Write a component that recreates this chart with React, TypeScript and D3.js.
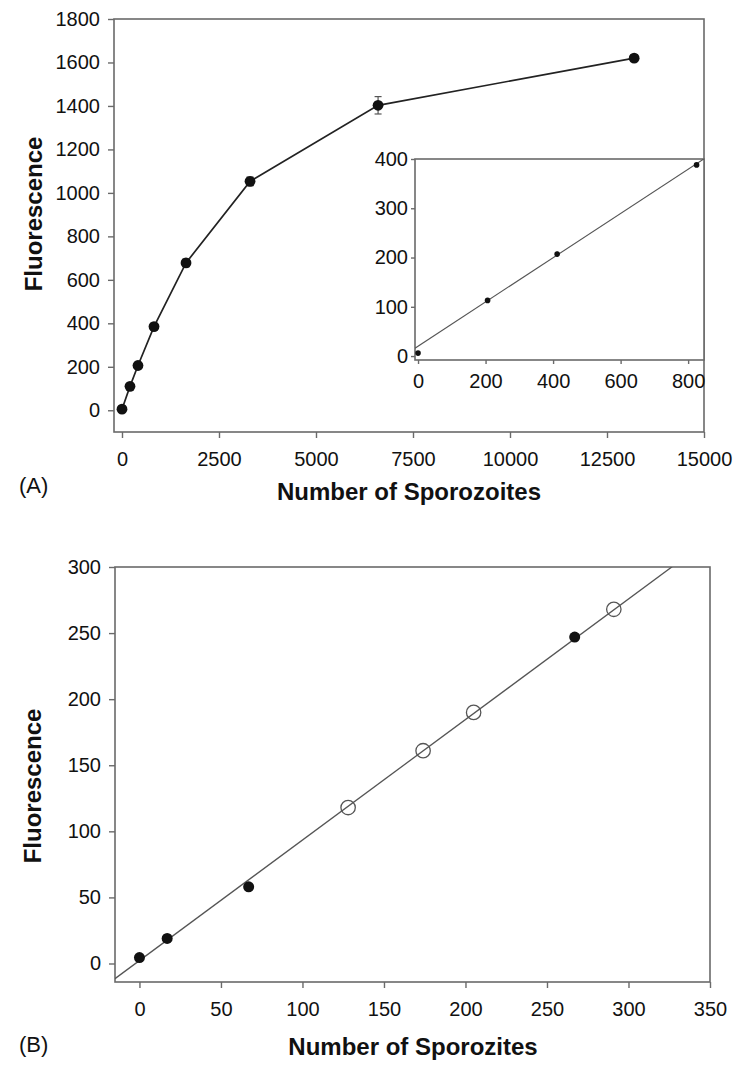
import React, { useEffect, useRef } from 'react';
import * as d3 from 'd3';

// panel A - main curve
const sporoA = [0, 206, 412, 825, 1650, 3300, 6600, 13200];
const fluorA = [5, 110, 206, 385, 678, 1053, 1403, 1620];
const errA = [10, 12, 14, 15, 18, 20, 40, 15];

// panel A - inset (low range)
const sporoInset = [0, 206, 412, 825];
const fluorInset = [6, 113, 207, 388];
const errInset = [3, 3, 5, 3];
const insetFit = { slope: 0.449, intercept: 20 };

// panel B
const sporoBFilled = [0, 17, 67, 267];
const fluorBFilled = [4.5, 19, 58, 247];
const sporoBOpen = [128, 174, 205, 291];
const fluorBOpen = [118, 161, 190, 268];
const fitB = { slope: 0.912, intercept: 2.2 };

const ticksAx = [0, 2500, 5000, 7500, 10000, 12500, 15000];
const ticksAy = [0, 200, 400, 600, 800, 1000, 1200, 1400, 1600, 1800];
const ticksInsetX = [0, 200, 400, 600, 800];
const ticksInsetY = [0, 100, 200, 300, 400];
const ticksBx = [0, 50, 100, 150, 200, 250, 300, 350];
const ticksBy = [0, 50, 100, 150, 200, 250, 300];

const FONT = "'Liberation Sans', Arial, Helvetica, sans-serif";
const FRAME = '#6a6a6a';

const App = () => {
  const svgRef = useRef(null);

  useEffect(() => {
    const svg = d3.select(svgRef.current);
    svg.selectAll('*').remove();
    svg.style('font-family', FONT);

    const frame = (x, y) => {
      const [x0, x1] = x.range();
      const [y0, y1] = y.range();
      svg.append('rect')
        .attr('x', x0).attr('y', y1)
        .attr('width', x1 - x0).attr('height', y0 - y1)
        .attr('fill', '#fff')
        .attr('stroke', FRAME)
        .attr('stroke-width', 1.6);
    };

    const axes = (x, y, xt, yt, opts) => {
      const fmt = d3.format('d');
      const gx = svg.append('g')
        .attr('transform', `translate(0,${y.range()[0]})`)
        .call(d3.axisBottom(x).tickValues(xt).tickFormat(fmt)
          .tickSize(opts.tick).tickSizeOuter(0).tickPadding(opts.xPad));
      const gy = svg.append('g')
        .attr('transform', `translate(${x.range()[0]},0)`)
        .call(d3.axisLeft(y).tickValues(yt).tickFormat(fmt)
          .tickSize(opts.tick).tickSizeOuter(0).tickPadding(opts.yPad));
      [gx, gy].forEach(g => {
        g.select('.domain').remove();
        g.selectAll('line').attr('stroke', FRAME).attr('stroke-width', 1.4);
        g.selectAll('text')
          .attr('fill', '#111')
          .style('font-size', opts.size + 'px')
          .style('font-family', FONT);
      });
    };

    const label = (txt, x, y, size, bold, rotate) => {
      const t = svg.append('text')
        .attr('text-anchor', rotate ? 'middle' : (bold ? 'middle' : 'start'))
        .attr('fill', '#111')
        .style('font-size', size + 'px')
        .style('font-weight', bold ? 'bold' : 'normal')
        .text(txt);
      if (rotate) t.attr('transform', `translate(${x},${y}) rotate(-90)`);
      else t.attr('x', x).attr('y', y);
    };

    // ---------- panel A ----------
    const xA = d3.scaleLinear().domain([-206, 15000]).range([114, 704]);
    const yA = d3.scaleLinear().domain([-100, 1800]).range([432, 19]);
    frame(xA, yA);
    axes(xA, yA, ticksAx, ticksAy, { tick: 6, xPad: 14, yPad: 8, size: 20 });

    const ptsA = sporoA.map((s, i) => ({ x: s, y: fluorA[i], e: errA[i] }));
    svg.append('path')
      .datum(ptsA)
      .attr('fill', 'none')
      .attr('stroke', '#222')
      .attr('stroke-width', 1.7)
      .attr('d', d3.line().x(d => xA(d.x)).y(d => yA(d.y)));

    ptsA.forEach(d => {
      const cx = xA(d.x);
      svg.append('line')
        .attr('x1', cx).attr('x2', cx)
        .attr('y1', yA(d.y - d.e)).attr('y2', yA(d.y + d.e))
        .attr('stroke', '#555').attr('stroke-width', 1.2);
      [d.y - d.e, d.y + d.e].forEach(v => {
        svg.append('line')
          .attr('x1', cx - 3.5).attr('x2', cx + 3.5)
          .attr('y1', yA(v)).attr('y2', yA(v))
          .attr('stroke', '#555').attr('stroke-width', 1.2);
      });
    });
    svg.append('g').selectAll('circle').data(ptsA).join('circle')
      .attr('cx', d => xA(d.x)).attr('cy', d => yA(d.y))
      .attr('r', 5.4).attr('fill', '#111');

    // inset
    const xI = d3.scaleLinear().domain([-9, 847]).range([415, 704]);
    const yI = d3.scaleLinear().domain([-8, 400]).range([360, 159]);
    frame(xI, yI);
    axes(xI, yI, ticksInsetX, ticksInsetY, { tick: 4, xPad: 10, yPad: 3, size: 20 });

    svg.append('defs').append('clipPath').attr('id', 'clipI')
      .append('rect')
      .attr('x', 415).attr('y', 159).attr('width', 289).attr('height', 201);
    svg.append('path')
      .datum(xI.domain())
      .attr('clip-path', 'url(#clipI)')
      .attr('fill', 'none')
      .attr('stroke', '#555')
      .attr('stroke-width', 1.1)
      .attr('d', d3.line().x(d => xI(d)).y(d => yI(insetFit.intercept + insetFit.slope * d)));

    const ptsI = sporoInset.map((s, i) => ({ x: s, y: fluorInset[i], e: errInset[i] }));
    ptsI.forEach(d => {
      svg.append('line')
        .attr('x1', xI(d.x)).attr('x2', xI(d.x))
        .attr('y1', yI(d.y - d.e)).attr('y2', yI(d.y + d.e))
        .attr('stroke', '#333').attr('stroke-width', 1);
    });
    svg.append('g').selectAll('circle').data(ptsI).join('circle')
      .attr('cx', d => xI(d.x)).attr('cy', d => yI(d.y))
      .attr('r', 2.8).attr('fill', '#111');

    label('Fluorescence', 42, 214, 24, true, true);
    label('Number of Sporozoites', 409, 500, 24, true, false);
    label('(A)', 19, 493, 22, false, false);

    // ---------- panel B ----------
    const xB = d3.scaleLinear().domain([-15, 350]).range([115, 710]);
    const yB = d3.scaleLinear().domain([-14, 300]).range([982, 567]);
    frame(xB, yB);
    axes(xB, yB, ticksBx, ticksBy, { tick: 6, xPad: 14, yPad: 8, size: 20 });

    svg.select('defs').append('clipPath').attr('id', 'clipB')
      .append('rect')
      .attr('x', 115).attr('y', 567).attr('width', 595).attr('height', 415);
    svg.append('path')
      .datum(xB.domain())
      .attr('clip-path', 'url(#clipB)')
      .attr('fill', 'none')
      .attr('stroke', '#555')
      .attr('stroke-width', 1.3)
      .attr('d', d3.line().x(d => xB(d)).y(d => yB(fitB.intercept + fitB.slope * d)));

    const open = sporoBOpen.map((s, i) => ({ x: s, y: fluorBOpen[i] }));
    svg.append('g').selectAll('circle').data(open).join('circle')
      .attr('cx', d => xB(d.x)).attr('cy', d => yB(d.y))
      .attr('r', 7.2).attr('fill', 'none')
      .attr('stroke', '#555').attr('stroke-width', 1.3);

    const filled = sporoBFilled.map((s, i) => ({ x: s, y: fluorBFilled[i] }));
    svg.append('g').selectAll('circle').data(filled).join('circle')
      .attr('cx', d => xB(d.x)).attr('cy', d => yB(d.y))
      .attr('r', 5.5).attr('fill', '#111');

    label('Fluorescence', 41, 786, 24, true, true);
    label('Number of Sporozites', 413, 1055, 24, true, false);
    label('(B)', 19, 1052, 22, false, false);
  }, []);

  return (
    <svg
      ref={svgRef}
      width={736}
      height={1069}
      style={{ position: 'absolute', left: 0, top: 0, background: '#fff' }}
    />
  );
};

export default App;
